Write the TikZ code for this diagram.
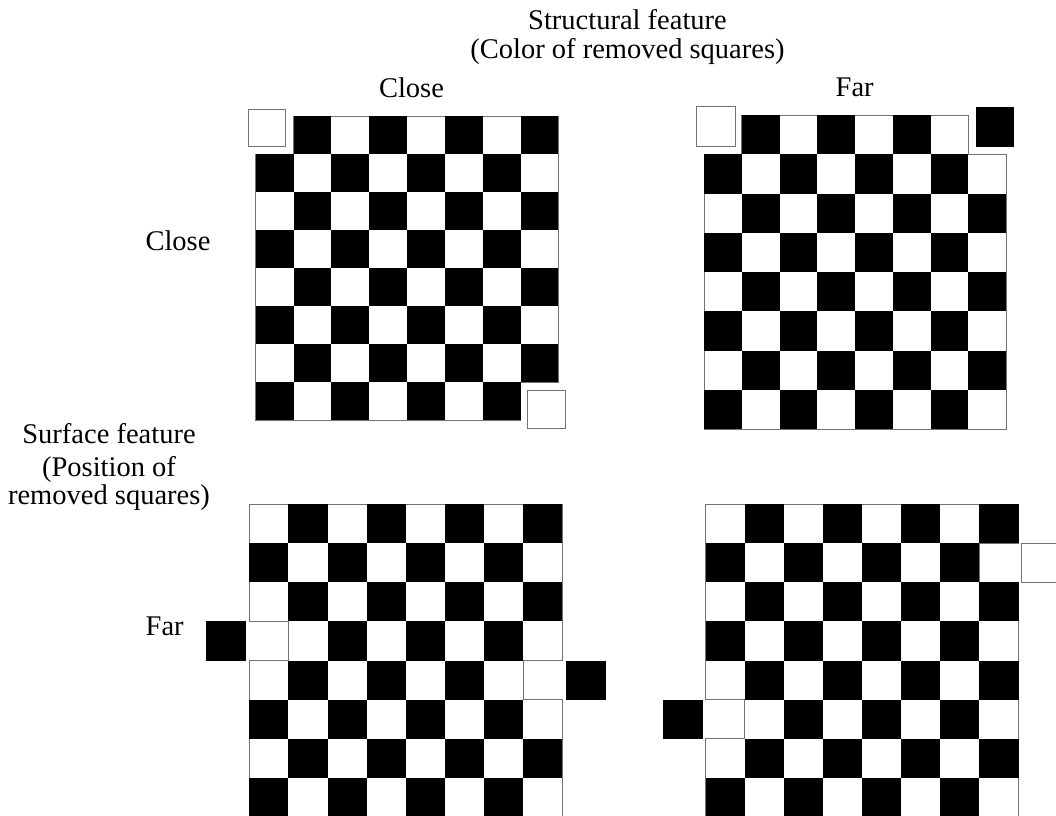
\documentclass[tikz,border=0pt]{standalone}
\usepackage{fontspec}
\setmainfont{Liberation Serif}
\tikzset{
  lbl/.style={anchor=base, inner sep=0pt, font=\fontsize{28.5}{30}\selectfont},
  rim/.style={draw=black!55, line width=0.9pt},
  gonewhite/.style={draw=black!55, line width=0.9pt, fill=white},
  goneblack/.style={fill=black},
}
% #1,#2 top-left corner; #3,#4 cell width/height; (#5,#6) and (#7,#8) removed cells (row,col)
\newcommand\cboardcells[8]{%
  \foreach \r in {0,...,7}{%
    \foreach \c in {0,...,7}{%
      \pgfmathtruncatemacro\kk{mod(\r+\c,2)+10*and(\r==#5,\c==#6)+10*and(\r==#7,\c==#8)}%
      \ifnum\kk=1 \fill[black] (\c,\r) rectangle ++(1,1);\fi
    }%
  }%
}
\begin{document}
\begin{tikzpicture}[x=1pt,y=-1pt]
\useasboundingbox (0,0) rectangle (1056,815);

% ---------- Board A : close / close ----------
\begin{scope}[shift={(255.7,116)}, x=37.83pt, y=-38pt]
  \draw[rim] (1,0) -- (8,0) -- (8,7) -- (7,7) -- (7,8) -- (0,8) -- (0,1) -- (1,1) -- cycle;
  \cboardcells{0}{0}{0}{0}{0}{0}{7}{7}
\end{scope}
\draw[gonewhite] (248.3,109) rectangle (285.7,146.7);
\draw[gonewhite] (527.3,390) rectangle (565.7,428.3);

% ---------- Board B : far colour / close position ----------
\begin{scope}[shift={(704,115)}, x=37.75pt, y=-39.25pt]
  \draw[rim] (1,0) -- (7,0) -- (7,1) -- (8,1) -- (8,8) -- (0,8) -- (0,1) -- (1,1) -- cycle;
  \cboardcells{0}{0}{0}{0}{0}{0}{0}{7}
\end{scope}
\draw[gonewhite] (696.7,106.7) rectangle (735,146);
\fill[goneblack] (976,107.3) rectangle (1014,146.7);

% ---------- Board C : close colour / far position ----------
\begin{scope}[shift={(249.3,504)}, x=39.1pt, y=-39.15pt]
  \draw[rim] (0,0) -- (8,0) -- (8,4) -- (7,4) -- (7,5) -- (8,5) -- (8,8) -- (0,8) -- (0,4) -- (1,4) -- (1,3) -- (0,3) -- cycle;
  \cboardcells{0}{0}{0}{0}{3}{0}{4}{7}
\end{scope}
\fill[goneblack] (206,620.7) rectangle (246,660.7);
\fill[goneblack] (566,660.7) rectangle (605.7,700);

% ---------- Board D : far colour / far position ----------
\begin{scope}[shift={(705.7,504)}, x=39.1pt, y=-39.15pt]
  \draw[rim] (0,0) -- (8,0) -- (8,1) -- (7,1) -- (7,2) -- (8,2) -- (8,8) -- (0,8) -- (0,6) -- (1,6) -- (1,5) -- (0,5) -- cycle;
  \cboardcells{0}{0}{0}{0}{1}{7}{5}{0}
\end{scope}
\draw[gonewhite] (1021.7,543.3) rectangle (1061,582.7);
\fill[goneblack] (662.7,700) rectangle (702.7,739.3);

% ---------- Labels ----------
\node[lbl] (title1) at (627.5,29.3) {Structural feature};
\node[lbl] (title2) at (627.5,58.3) {(Color of removed squares)};
\node[lbl] (colclose) at (411.5,97) {Close};
\node[lbl] (colfar) at (854.7,96.7) {Far};
\node[lbl] (rowclose) at (178,250) {Close};
\node[lbl] (surf1) at (109,443.3) {Surface feature};
\node[lbl] (surf2) at (109,476.7) {(Position of};
\node[lbl] (surf3) at (109,504.3) {removed squares)};
\node[lbl] (rowfar) at (164.7,635) {Far};
\end{tikzpicture}
\end{document}
